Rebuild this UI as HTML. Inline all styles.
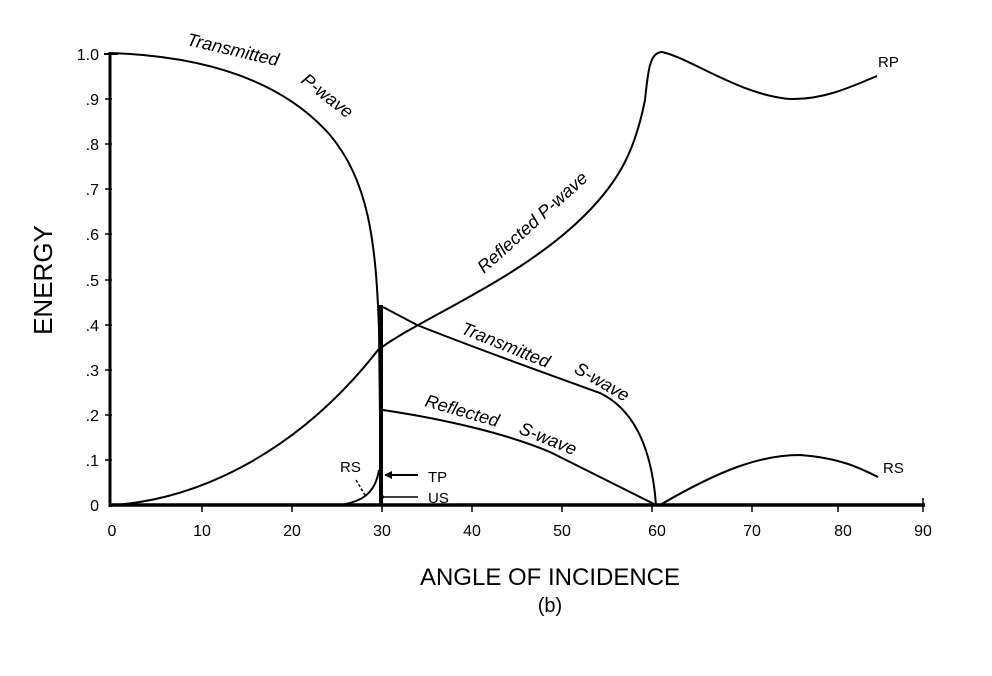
<!DOCTYPE html>
<html><head><style>body{margin:0;background:#fff}svg{display:block}text{font-family:"Liberation Sans",Arial,sans-serif;fill:#000}</style></head><body>
<svg width="992" height="676" viewBox="0 0 992 676" xmlns="http://www.w3.org/2000/svg">
<g stroke="#000" fill="none">
<line x1="110" y1="52" x2="110" y2="507" stroke-width="3"/>
<line x1="110" y1="505" x2="925" y2="505" stroke-width="3.5"/>
<line x1="104" y1="54" x2="118" y2="54" stroke-width="2"/>
<g stroke-width="1.5">
<line x1="105" y1="99" x2="112" y2="99"/><line x1="105" y1="144" x2="112" y2="144"/><line x1="105" y1="189" x2="112" y2="189"/>
<line x1="105" y1="234" x2="112" y2="234"/><line x1="105" y1="280" x2="112" y2="280"/><line x1="105" y1="325" x2="112" y2="325"/>
<line x1="105" y1="370" x2="112" y2="370"/><line x1="105" y1="415" x2="112" y2="415"/><line x1="105" y1="460" x2="112" y2="460"/>
<line x1="202" y1="505" x2="202" y2="512"/><line x1="292" y1="505" x2="292" y2="512"/><line x1="382" y1="505" x2="382" y2="512"/>
<line x1="472" y1="505" x2="472" y2="512"/><line x1="562" y1="505" x2="562" y2="512"/><line x1="652" y1="505" x2="652" y2="512"/>
<line x1="752" y1="505" x2="752" y2="512"/><line x1="838" y1="505" x2="838" y2="512"/><line x1="923" y1="498" x2="923" y2="512"/>
</g>
<g stroke-width="2">
<!-- transmitted P -->
<path d="M110,53 C200,56 280,78 330,135 C368,180 376,240 379,330 L381,505"/>
<!-- reflected P -->
<path d="M112,505 C200,500 300,450 378,350 C420,318 520,280 585,215 C620,180 635,150 645,100 C648,70 650,52 662,52 C690,58 740,95 790,99 C825,100 855,85 877,76"/>
<!-- transmitted S -->
<path d="M383,307 L417,325 C480,350 550,375 600,393 C635,410 652,450 656,505"/>
<!-- reflected S -->
<path d="M383,410 C450,420 510,435 550,452 L656,505"/>
<!-- RS later -->
<path d="M660,505 C720,470 760,455 800,455 C840,458 860,468 878,477"/>
<!-- RS small -->
<path d="M340,505 C360,502 375,495 379,470"/>
</g>
<line x1="381" y1="305" x2="381" y2="505" stroke-width="4"/>
<line x1="385" y1="475" x2="418" y2="475" stroke-width="2"/>
<line x1="382" y1="497" x2="418" y2="497" stroke-width="1.5"/>
<path d="M356,480 L365,495" stroke-width="1.5" stroke-dasharray="3,2"/>
</g>
<polygon points="384,475 392,471 392,479" fill="#000"/>
<circle cx="382" cy="497" r="2" fill="#000"/>
<g font-size="16" text-anchor="end">
<text x="99" y="60">1.0</text><text x="99" y="105">.9</text><text x="99" y="150">.8</text><text x="99" y="195">.7</text>
<text x="99" y="240">.6</text><text x="99" y="286">.5</text><text x="99" y="331">.4</text><text x="99" y="376">.3</text>
<text x="99" y="421">.2</text><text x="99" y="466">.1</text><text x="99" y="511">0</text>
</g>
<g font-size="16" text-anchor="middle">
<text x="112" y="536">0</text><text x="202" y="536">10</text><text x="292" y="536">20</text><text x="382" y="536">30</text>
<text x="472" y="536">40</text><text x="562" y="536">50</text><text x="657" y="536">60</text><text x="752" y="536">70</text>
<text x="843" y="536">80</text><text x="923" y="536">90</text>
</g>
<text x="52" y="280" font-size="26" text-anchor="middle" transform="rotate(-90 52 280)">ENERGY</text>
<text x="550" y="585" font-size="24" text-anchor="middle">ANGLE OF INCIDENCE</text>
<text x="550" y="612" font-size="20" text-anchor="middle">(b)</text>
<g font-size="18" font-style="italic">
<text transform="translate(186,45) rotate(13)">Transmitted</text>
<text transform="translate(300,82) rotate(38)">P-wave</text>
<text transform="translate(484,274) rotate(-42)">Reflected   P-wave</text>
<text transform="translate(460,333) rotate(22)">Transmitted</text>
<text transform="translate(573,372) rotate(30)">S-wave</text>
<text transform="translate(424,406) rotate(16)">Reflected</text>
<text transform="translate(518,433) rotate(22)">S-wave</text>
</g>
<g font-size="15">
<text x="878" y="67">RP</text>
<text x="883" y="473">RS</text>
<text x="340" y="472">RS</text>
<text x="428" y="482">TP</text>
<text x="428" y="503">US</text>
</g>
</svg>
</body></html>
